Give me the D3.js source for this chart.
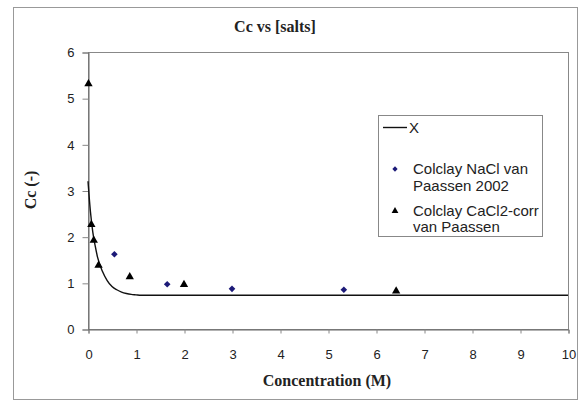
<!DOCTYPE html>
<html>
<head>
<meta charset="utf-8">
<script src="https://cdn.jsdelivr.net/npm/d3@7"></script>
<style>
  body { margin: 0; background: #fff; }
  text { font-family: "Liberation Sans", Arial, sans-serif; }
</style>
</head>
<body>
<script>
// data
var xTicks = [0, 1, 2, 3, 4, 5, 6, 7, 8, 9, 10];
var yTicks = [0, 1, 2, 3, 4, 5, 6];

// fitted line "X"
var lineX = [0, 0.05, 0.1, 0.15, 0.2, 0.3, 0.4, 0.5, 0.6, 0.7, 0.8, 0.9, 1.0, 1.1, 10];
var lineY = [3.2, 2.55, 2.1, 1.8, 1.55, 1.25, 1.05, 0.92, 0.85, 0.8, 0.77, 0.75, 0.74, 0.73, 0.73];

// Colclay NaCl van Paassen 2002
var naclX = [0.55, 1.65, 3.0, 5.33];
var naclY = [1.62, 0.97, 0.87, 0.85];

// Colclay CaCl2-corr van Paassen
var caclX = [0.01, 0.07, 0.12, 0.22, 0.87, 2.0, 6.42];
var caclY = [5.31, 2.26, 1.92, 1.38, 1.13, 0.96, 0.82];

var width  = 580,
    height = 408,
    plot   = { left: 88, right: 568, top: 52, bottom: 329 };

var serif = '"Liberation Serif", "Times New Roman", serif';

var svg = d3.select('body')
    .append('svg')
    .attr('width', width)
    .attr('height', height);

// outer chart border
svg.append('rect')
    .attr('x', 13.5).attr('y', 7.5)
    .attr('width', 564).attr('height', 392)
    .attr('fill', 'none')
    .attr('stroke', '#999');

var xScale = d3.scaleLinear().domain([0, 10]).range([plot.left, plot.right]);
var yScale = d3.scaleLinear().domain([0, 6]).range([plot.bottom, plot.top]);

// plot frame
svg.append('rect')
    .attr('x', plot.left + 0.5).attr('y', plot.top + 0.5)
    .attr('width', plot.right - plot.left).attr('height', plot.bottom - plot.top)
    .attr('fill', 'none')
    .attr('stroke', '#888');

// axes
var xAxis = d3.axisBottom(xScale).tickValues(xTicks).tickFormat(d3.format('d')).tickSize(4).tickPadding(16);
var yAxis = d3.axisLeft(yScale).tickValues(yTicks).tickFormat(d3.format('d')).tickSize(6).tickPadding(8);

var gx = svg.append('g')
    .attr('transform', 'translate(0.5,' + (plot.bottom + 0.5) + ')')
    .call(xAxis);
var gy = svg.append('g')
    .attr('transform', 'translate(' + (plot.left + 0.5) + ',0.5)')
    .call(yAxis);

[gx, gy].forEach(function (g) {
    g.select('.domain').attr('stroke', '#666');
    g.selectAll('.tick line').attr('stroke', '#888');
    g.selectAll('.tick text')
        .attr('fill', '#222')
        .style('font-family', '"Liberation Sans", Arial, sans-serif')
        .style('font-size', '13px');
});

// line X
var line = d3.line()
    .x(function (d) { return xScale(d[0]); })
    .y(function (d) { return yScale(d[1]); })
    .curve(d3.curveMonotoneX);

svg.append('path')
    .datum(d3.zip(lineX, lineY))
    .attr('d', line)
    .attr('fill', 'none')
    .attr('stroke', '#111')
    .attr('stroke-width', 1.4);

// markers: diamond = square turned 45deg
var diamond  = d3.symbol().type(d3.symbolSquare).size(22);
var triangle = d3.symbol().type(d3.symbolTriangle).size(30);

svg.append('g')
    .selectAll('path')
    .data(d3.zip(naclX, naclY))
    .join('path')
    .attr('d', diamond)
    .attr('transform', function (d) { return 'translate(' + xScale(d[0]) + ',' + yScale(d[1]) + ') rotate(45)'; })
    .attr('fill', '#1c1a78');

svg.append('g')
    .selectAll('path')
    .data(d3.zip(caclX, caclY))
    .join('path')
    .attr('d', triangle)
    .attr('transform', function (d) { return 'translate(' + xScale(d[0]) + ',' + yScale(d[1]) + ')'; })
    .attr('fill', '#000');

// titles
svg.append('text')
    .attr('x', 275).attr('y', 32)
    .attr('text-anchor', 'middle')
    .style('font-family', serif)
    .style('font-weight', 'bold')
    .style('font-size', '16px')
    .attr('fill', '#222')
    .text('Cc vs [salts]');

svg.append('text')
    .attr('x', 327).attr('y', 386)
    .attr('text-anchor', 'middle')
    .style('font-family', serif)
    .style('font-weight', 'bold')
    .style('font-size', '16px')
    .attr('fill', '#222')
    .text('Concentration (M)');

svg.append('text')
    .attr('transform', 'translate(36,190) rotate(-90)')
    .attr('text-anchor', 'middle')
    .style('font-family', serif)
    .style('font-weight', 'bold')
    .style('font-size', '16px')
    .attr('fill', '#222')
    .text('Cc (-)');

// legend
var legend = svg.append('g');
legend.append('rect')
    .attr('x', 378.5).attr('y', 115.5)
    .attr('width', 164).attr('height', 121)
    .attr('fill', '#fff')
    .attr('stroke', '#888');

legend.append('line')
    .attr('x1', 383).attr('x2', 407)
    .attr('y1', 127.5).attr('y2', 127.5)
    .attr('stroke', '#111')
    .attr('stroke-width', 1.4);
legend.append('text')
    .attr('x', 409).attr('y', 133)
    .style('font-size', '15px').attr('fill', '#222')
    .text('X');

legend.append('path')
    .attr('d', d3.symbol().type(d3.symbolSquare).size(14))
    .attr('transform', 'translate(395,169) rotate(45)')
    .attr('fill', '#1c1a78');
legend.append('text')
    .attr('x', 413).attr('y', 174)
    .style('font-size', '15px').attr('fill', '#222')
    .text('Colclay NaCl van');
legend.append('text')
    .attr('x', 413).attr('y', 191)
    .style('font-size', '15px').attr('fill', '#222')
    .text('Paassen 2002');

legend.append('path')
    .attr('d', d3.symbol().type(d3.symbolTriangle).size(20))
    .attr('transform', 'translate(395,211)')
    .attr('fill', '#000');
legend.append('text')
    .attr('x', 413).attr('y', 216)
    .style('font-size', '15px').attr('fill', '#222')
    .text('Colclay CaCl2-corr');
legend.append('text')
    .attr('x', 413).attr('y', 232)
    .style('font-size', '15px').attr('fill', '#222')
    .text('van Paassen');
</script>
</body>
</html>
